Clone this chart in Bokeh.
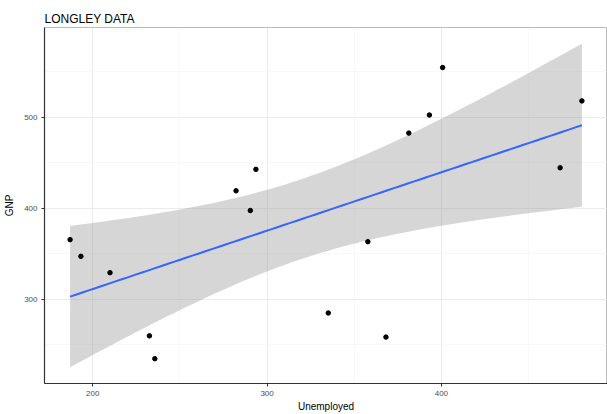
import numpy as np
from bokeh.plotting import figure
from bokeh.models import Range1d, FixedTicker
from bokeh.embed import file_html
from bokeh.resources import INLINE

# Longley data
unemployed = [235.6, 232.5, 368.2, 335.1, 209.9, 193.2, 187.0, 357.8,
              290.4, 282.2, 293.6, 468.1, 381.3, 393.1, 480.6, 400.7]
gnp = [234.289, 259.426, 258.054, 284.599, 328.975, 346.999, 365.385, 363.112,
       397.469, 419.180, 442.769, 444.546, 482.704, 502.601, 518.173, 554.894]
x_ticks = [200, 300, 400]
y_ticks = [300, 400, 500]

# linear model fit with 95% confidence band (as geom_smooth(method="lm"))
x = np.array(unemployed)
y = np.array(gnp)
n = len(x)
b1, b0 = np.polyfit(x, y, 1)
resid = y - (b0 + b1 * x)
s = np.sqrt(np.sum(resid ** 2) / (n - 2))
tq = 2.144787  # t(0.975, df=14)
xs = np.linspace(x.min(), x.max(), 80)
yhat = b0 + b1 * xs
se = s * np.sqrt(1.0 / n + (xs - x.mean()) ** 2 / np.sum((x - x.mean()) ** 2))
lo = yhat - tq * se
hi = yhat + tq * se

xmin, xmax = x.min(), x.max()
ymin, ymax = min(y.min(), lo.min()), max(y.max(), hi.max())
xe = 0.05 * (xmax - xmin)
ye = 0.05 * (ymax - ymin)

p = figure(width=607, height=414, output_backend="svg", toolbar_location=None,
           x_range=Range1d(xmin - xe, xmax + xe), y_range=Range1d(ymin - ye, ymax + ye),
           min_border_left=44, min_border_right=0, min_border_top=27, min_border_bottom=30)

p.title.text = "LONGLEY DATA"
p.title.text_font = "Liberation Sans"
p.title.text_font_size = "12px"
p.title.text_font_style = "normal"
p.title.text_color = "#000000"
p.title.standoff = 3

p.background_fill_color = "white"
p.outline_line_color = "#bbbbbb"
p.outline_line_width = 1

for ax in (p.xaxis, p.yaxis):
    ax.axis_line_color = "#333333"
    ax.axis_line_width = 1.2
    ax.major_tick_line_color = "#333333"
    ax.major_tick_in = 0
    ax.major_tick_out = 3
    ax.minor_tick_line_color = None
    ax.major_label_text_font = "Liberation Sans"
    ax.major_label_text_font_size = "8px"
    ax.major_label_text_color = "#4d4d4d"
    ax.axis_label_text_font = "Liberation Sans"
    ax.axis_label_text_font_size = "10px"
    ax.axis_label_text_font_style = "normal"
    ax.axis_label_text_color = "#000000"

p.xaxis.ticker = FixedTicker(ticks=x_ticks, minor_ticks=[250, 350, 450])
p.yaxis.ticker = FixedTicker(ticks=y_ticks, minor_ticks=[250, 350, 450, 550])
p.xaxis.axis_label = "Unemployed"
p.yaxis.axis_label = "GNP"
p.xaxis.axis_label_standoff = 2
p.yaxis.axis_label_standoff = 6
p.xaxis.major_label_standoff = 3
p.yaxis.major_label_standoff = 3

for g in (p.xgrid, p.ygrid):
    g.grid_line_color = "#ebebeb"
    g.grid_line_width = 1
    g.minor_grid_line_color = "#f4f4f4"
    g.minor_grid_line_width = 0.6
    g.level = "underlay"

p.varea(x=xs, y1=lo, y2=hi, fill_color="#999999", fill_alpha=0.4)
p.line(xs, yhat, line_color="#3366FF", line_width=2)
p.scatter(unemployed, gnp, size=4.5, color="black")

open("out.html", "w").write(file_html(p, INLINE))
